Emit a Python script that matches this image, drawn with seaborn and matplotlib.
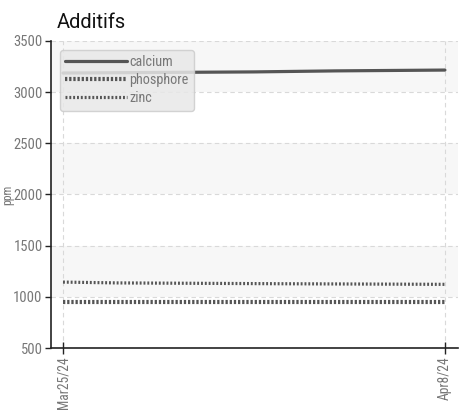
import matplotlib
matplotlib.use("Agg")
import matplotlib.pyplot as plt
import matplotlib.dates as mdates
import matplotlib.font_manager as fm
import pandas as pd
import seaborn as sns

title = "Additifs"
y_label = "ppm"
series_names = ["calcium", "phosphore", "zinc"]

calcium_dates = ["2024-03-25", "2024-04-01", "2024-04-04", "2024-04-08"]
calcium_vals = [3187, 3198, 3208, 3216]

phosphore_dates = ["2024-03-25", "2024-04-08"]
phosphore_vals = [948, 948]

zinc_dates = ["2024-03-25", "2024-03-27", "2024-04-02", "2024-04-08"]
zinc_vals = [1144, 1136, 1128, 1122]

x_tick_dates = ["2024-03-25", "2024-04-08"]
x_tick_labels = ["Mar25/24", "Apr8/24"]
y_ticks = [500, 1000, 1500, 2000, 2500, 3000, 3500]

sns.set_style("white")
names = {f.name for f in fm.fontManager.ttflist}
fam = [f for f in ["Roboto Condensed", "Liberation Sans Narrow", "Roboto"] if f in names] + ["DejaVu Sans"]
plt.rcParams["font.family"] = fam
title_fam = [f for f in ["Roboto", "Open Sans"] if f in names] + ["DejaVu Sans"]

fig = plt.figure(figsize=(4.66, 4.11), dpi=100)
ax = fig.add_axes([51/466, 1-348/411, (458-51)/466, (348-41)/411])

# alternating bands
for i in range(len(y_ticks) - 1):
    if i % 2 == 1:
        ax.axhspan(y_ticks[i], y_ticks[i+1], color="#f7f7f7", zorder=0, lw=0)

df_c = pd.DataFrame({"date": pd.to_datetime(calcium_dates), "v": calcium_vals})
df_p = pd.DataFrame({"date": pd.to_datetime(phosphore_dates), "v": phosphore_vals})
df_z = pd.DataFrame({"date": pd.to_datetime(zinc_dates), "v": zinc_vals})

col = "#555555"
sns.lineplot(data=df_c, x="date", y="v", ax=ax, color=col, lw=2.3, label=series_names[0])
sns.lineplot(data=df_p, x="date", y="v", ax=ax, color=col, lw=3, label=series_names[1],
             linestyle=(0, (0.55, 0.45)))
sns.lineplot(data=df_z, x="date", y="v", ax=ax, color=col, lw=2.3, label=series_names[2],
             linestyle=(0, (0.6, 0.6)))

x0 = mdates.date2num(pd.Timestamp(x_tick_dates[0]))
x1 = mdates.date2num(pd.Timestamp(x_tick_dates[1]))
ax.set_xlim(x0 - 0.44, x1 + 0.48)
ax.set_ylim(y_ticks[0], y_ticks[-1])
ax.set_yticks(y_ticks)
ax.set_xticks([x0, x1])
ax.set_xticklabels(x_tick_labels, rotation=90, color="#777777", fontsize=9.8)
ax.set_yticklabels([str(v) for v in y_ticks], color="#777777", fontsize=10.5)
ax.set_xlabel("")
ax.set_ylabel(y_label, color="#777777", fontsize=8.5)
ax.yaxis.set_label_coords(-37/407, 0.5)

ax.grid(True, color="#d9d9d9", linestyle=(0, (4, 3)), lw=0.8)
for s in ["top", "right"]:
    ax.spines[s].set_visible(False)
for s in ["left", "bottom"]:
    ax.spines[s].set_color("#222222")
    ax.spines[s].set_linewidth(1.2)
ax.tick_params(axis="y", direction="out", length=4, width=1, color="#222222", pad=2, left=True)
ax.tick_params(axis="x", direction="inout", length=8, width=1, color="#222222", pad=2, bottom=True)

ax.set_title(title, loc="left", fontsize=14.5, color="#111111", x=0.015, pad=9, family=title_fam)

leg = ax.legend(loc="upper left", bbox_to_anchor=(9/407, 1 - 9/307), handlelength=4.3, handletextpad=0.15,
                labelspacing=0.28, fontsize=10.3, frameon=True, fancybox=True, borderpad=0.38,
                borderaxespad=0.0)
leg.get_frame().set_facecolor("#e8e8e8")
leg.get_frame().set_edgecolor("#cccccc")
leg.get_frame().set_alpha(0.85)
for t in leg.get_texts():
    t.set_color("#777777")

fig.savefig("out.png", dpi=100)
